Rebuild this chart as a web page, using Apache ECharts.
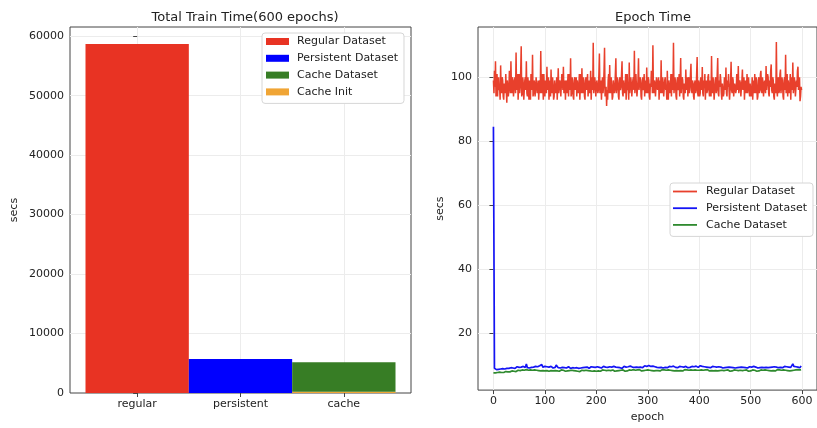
<!DOCTYPE html>
<html>
<head>
<meta charset="utf-8">
<script src="https://cdn.jsdelivr.net/npm/echarts@6/dist/echarts.min.js"></script>
<style>
  html, body { margin: 0; padding: 0; background: #fff; }
  #chart-container { width: 817px; height: 428px; }
</style>
</head>
<body>
<div id="chart-container"></div>
<script>
// left panel: total train time per dataset type
var categories = ['regular', 'persistent', 'cache'];
var regularTotal = [58700, '-', '-'];
var persistentTotal = ['-', 5700, '-'];
var cacheInitTotal = ['-', '-', 200];
var cacheTotal = ['-', '-', 4960];

// right panel: time per epoch
// regular: one value per epoch, persistent/cache: one value every 2 epochs
var regularEpoch = [
  99,95, 102,97, 105,94, 96,101, 94,99, 100,96, 97,93, 103.7,96, 95,100, 99,94, 93,98, 98,95, 101,96, 92,99, 97,94, 96,102, 100,95, 105,97, 95,100, 99,94,
  94,99, 100,95, 107.7,96, 96,101, 93,98, 101,95, 97,102, 109.7,94, 95,100, 98,93, 93,99, 100,96, 105,95, 94,100, 97,93, 99,96, 93,101, 101,96, 107,94, 95,99,
  98,94, 94,100, 100,95, 96,99, 93,97, 99,95, 108.2,96, 95,101, 97,93, 101,96, 94,99, 98,95, 103.3,96, 96,100, 93,98, 99,94, 102.4,96, 95,100, 97,93, 94,99,
  99,95, 96,100, 93,97, 102.8,95, 95,99, 98,94, 94,101, 100,96, 103.3,95, 96,99, 93,98, 99,95, 97,101, 94,98, 101,96, 105.9,94, 95,100, 98,94, 93,99, 100,96,
  96,100, 94,99, 99,95, 97,101, 93,98, 101,95, 102.8,96, 95,100, 98,94, 93,99, 100,96, 96,101, 94,98, 99,95, 97,102, 93,97, 100,96, 110.8,95, 95,100, 98,94,
  94,99, 99,95, 96,101, 107.4,95, 95,99, 93,98, 100,95, 97,102, 109.2,94, 94,97, 91,96, 93,99, 101,95, 103.8,96, 95,100, 97,93, 94,99, 99,95, 96,101, 105.9,95,
  95,100, 98,94, 93,99, 100,96, 97,101, 105,95, 94,99, 99,95, 96,101, 93,98, 101,96, 97,93, 104.6,95, 95,100, 98,94, 94,99, 100,96, 108.3,95, 95,101, 97,94,
  94,99, 105.9,96, 96,100, 99,94, 93,98, 100,96, 97,101, 94,99, 98,95, 103,96, 95,100, 99,94, 93,98, 97,102, 101,95, 110,96, 95,99, 98,94, 94,100, 100,96,
  96,100, 93,98, 99,95, 105.3,96, 95,100, 98,94, 94,99, 100,96, 97,93, 102,96, 93,99, 99,95, 96,101, 94,98, 101,96, 110.8,95, 95,100, 98,94, 93,99, 100,96,
  97,101, 94,99, 106,95, 95,100, 99,94, 93,98, 98,95, 102.4,96, 96,100, 94,99, 100,95, 97,101, 104.2,96, 95,99, 98,94, 93,98, 99,95, 96,101, 106.3,95, 94,99,
  98,94, 95,100, 100,96, 103.2,95, 94,99, 97,101, 93,98, 99,95, 96,100, 101,96, 94,99, 98,94, 106.6,96, 95,100, 97,93, 93,99, 100,95, 96,101, 106,95, 94,99,
  97,101, 99,95, 93,98, 98,94, 95,100, 100,96, 103,95, 94,99, 97,101, 96,93, 93,99, 104.8,96, 95,100, 99,94, 94,98, 98,95, 96,101, 100,96, 103.5,95, 95,99,
  98,94, 94,99, 102.4,96, 96,100, 93,98, 99,95, 97,101, 95,99, 100,96, 94,98, 98,94, 96,100, 93,97, 99,95, 101,96, 95,100, 97,93, 94,99, 100,95, 96,101,
  102,96, 95,100, 98,94, 94,99, 99,95, 103.5,96, 96,101, 100,95, 94,99, 97,102, 104,96, 95,100, 99,94, 93,98, 98,95, 111,96, 94,99, 100,95, 96,101, 102.4,95,
  95,100, 98,94, 93,99, 100,96, 107,95, 96,101, 94,99, 99,95, 97,101, 93,98, 100,96, 104.6,95, 95,100, 98,94, 94,99, 97,102, 103.3,96, 96,100, 92.5,94, 97,96
];
var persistentEpoch = [
  84.5, 9.0, 8.7, 8.6, 8.6, 8.7, 8.6, 8.8, 8.7, 8.9, 9.1, 8.8, 8.9, 9.0, 8.8, 9.0, 8.9, 9.2, 9.0, 9.1,
  9.3, 9.0, 9.2, 9.5, 9.1, 9.3, 9.0, 9.4, 9.2, 9.6, 9.1, 9.3, 10.4, 9.2, 9.5, 9.1, 9.7, 9.3, 9.0, 9.4,
  9.2, 9.6, 9.1, 9.5, 9.3, 9.8, 9.2, 10.2, 9.4, 9.1, 9.6, 9.3, 9.5, 9.2, 9.4, 9.0, 9.6, 9.3, 9.1, 9.5,
  9.3, 10.0, 9.4, 9.2, 9.6, 9.1, 9.4, 9.3, 9.5, 9.2, 9.4, 9.1, 9.3, 9.5, 9.2, 9.0, 9.4, 9.2, 9.5, 9.1,
  9.3, 9.2, 9.4, 9.0, 9.3, 9.1, 9.6, 9.2, 8.9, 9.3, 9.1, 9.4, 9.2, 9.0, 9.3, 9.5, 9.2, 9.4, 9.1, 9.3,
  9.2, 9.5, 9.0, 9.3, 9.4, 9.1, 9.3, 9.6, 9.2, 9.4, 9.0, 9.3, 9.2, 9.5, 9.1, 9.4, 9.3, 9.6, 9.2, 9.4,
  9.1, 9.3, 9.5, 9.2, 9.4, 9.0, 9.3, 9.6, 9.2, 9.4, 9.1, 9.5, 9.3, 9.7, 9.2, 9.4, 9.6, 9.3, 9.8, 9.4,
  9.5, 9.3, 9.7, 9.4, 9.6, 9.2, 9.5, 9.8, 9.4, 9.6, 9.3, 9.9, 10.2, 9.6, 9.4, 9.7, 9.3, 9.5, 9.6, 9.3,
  9.4, 9.2, 9.5, 9.3, 9.6, 9.1, 9.4, 9.3, 9.5, 9.2, 9.4, 9.6, 9.3, 9.5, 9.2, 9.7, 9.4, 9.3, 9.5, 9.2,
  9.4, 9.6, 9.3, 9.5, 9.2, 9.4, 9.3, 9.6, 9.4, 9.2, 9.5, 9.3, 9.4, 9.6, 9.2, 9.5, 9.3, 9.7, 9.4, 9.3,
  9.5, 9.8, 9.4, 9.6, 9.3, 9.5, 9.7, 9.4, 9.6, 9.3, 9.5, 9.2, 9.4, 9.6, 9.3, 9.5, 9.2, 9.4, 9.3, 9.5,
  9.2, 9.4, 9.3, 9.1, 9.4, 9.2, 9.5, 9.3, 9.1, 9.4, 9.2, 9.3, 9.5, 9.2, 9.4, 9.1, 9.3, 9.2, 9.4, 9.3,
  9.1, 9.4, 9.2, 9.3, 9.5, 9.2, 9.4, 9.1, 9.3, 9.5, 9.2, 9.4, 9.3, 9.6, 9.2, 9.4, 9.3, 9.1, 9.4, 9.2,
  9.5, 9.3, 9.4, 9.2, 9.6, 9.3, 9.4, 9.2, 9.5, 9.3, 9.7, 9.4, 9.2, 9.5, 9.3, 9.4, 9.6, 9.2, 9.4, 9.3,
  9.5, 9.2, 9.4, 9.6, 9.3, 9.5, 9.2, 9.4, 9.7, 9.3, 9.5, 10.4, 9.6, 9.3, 9.5, 9.8, 9.4, 9.6, 9.2, 9.8
];
var cacheEpoch = [
  7.6, 7.5, 7.6, 7.5, 7.7, 7.6, 7.8, 7.6, 7.7, 7.9, 7.7, 7.8, 8.0, 7.8, 7.9, 8.1, 7.9, 8.0, 8.2, 8.0,
  8.1, 8.3, 8.0, 8.2, 8.4, 8.1, 8.3, 8.2, 8.5, 8.2, 8.4, 8.3, 8.6, 8.2, 8.4, 8.3, 8.5, 8.2, 8.4, 8.3,
  8.5, 8.2, 8.4, 8.6, 8.3, 8.5, 8.2, 8.4, 8.3, 8.6, 8.2, 8.4, 8.3, 8.5, 8.1, 8.4, 8.3, 8.5, 8.2, 8.4,
  8.3, 8.5, 8.2, 8.4, 8.1, 8.3, 8.5, 8.2, 8.4, 8.3, 8.1, 8.4, 8.2, 8.5, 8.3, 8.1, 8.4, 8.2, 8.3, 8.5,
  8.2, 8.4, 8.1, 8.3, 8.0, 8.2, 8.4, 8.1, 8.3, 8.2, 8.4, 8.1, 8.3, 8.5, 8.2, 8.4, 8.1, 8.3, 8.2, 8.4,
  8.1, 8.3, 8.2, 8.4, 8.1, 8.3, 8.5, 8.2, 8.4, 8.1, 8.3, 8.2, 8.4, 8.1, 8.3, 8.2, 8.5, 8.3, 8.1, 8.4,
  8.2, 8.4, 8.3, 8.1, 8.4, 8.2, 8.5, 8.3, 8.1, 8.4, 8.2, 8.3, 8.5, 8.2, 8.4, 8.3, 8.6, 8.2, 8.4, 8.3,
  8.5, 8.3, 8.6, 8.4, 8.2, 8.5, 8.3, 8.6, 8.4, 8.2, 8.5, 8.3, 8.4, 8.6, 8.3, 8.5, 8.2, 8.4, 8.3, 8.5,
  8.3, 8.5, 8.2, 8.4, 8.6, 8.3, 8.5, 8.2, 8.4, 8.3, 8.5, 8.2, 8.4, 8.6, 8.3, 8.5, 8.2, 8.4, 8.3, 8.5,
  8.2, 8.4, 8.3, 8.5, 8.2, 8.4, 8.6, 8.3, 8.5, 8.2, 8.4, 8.3, 8.5, 8.2, 8.4, 8.3, 8.5, 8.2, 8.4, 8.3,
  8.4, 8.2, 8.5, 8.3, 8.4, 8.2, 8.5, 8.3, 8.6, 8.4, 8.2, 8.5, 8.3, 8.4, 8.2, 8.5, 8.3, 8.4, 8.2, 8.5,
  8.3, 8.1, 8.4, 8.2, 8.3, 8.1, 8.4, 8.2, 8.5, 8.3, 8.1, 8.4, 8.2, 8.3, 8.5, 8.2, 8.4, 8.1, 8.3, 8.2,
  8.4, 8.2, 8.3, 8.1, 8.4, 8.2, 8.5, 8.3, 8.1, 8.4, 8.2, 8.3, 8.5, 8.2, 8.4, 8.3, 8.1, 8.4, 8.2, 8.3,
  8.5, 8.2, 8.4, 8.3, 8.5, 8.2, 8.4, 8.6, 8.3, 8.5, 8.2, 8.4, 8.3, 8.5, 8.2, 8.4, 8.6, 8.3, 8.5, 8.2,
  8.4, 8.3, 8.5, 8.2, 8.4, 8.6, 8.3, 8.5, 8.2, 8.4, 8.3, 8.6, 8.4, 8.2, 8.5, 8.3, 8.6, 8.4, 8.5, 8.6
];

// pair each value with its epoch number
function withEpochs(values, step) {
    return values.map(function (v, i) { return [i * step, v]; });
}

var textColor = '#222';
var spineColor = '#444';
var gridColor = '#ececec';
var fontFamily = 'DejaVu Sans';

var option = {
    animation: false,
    textStyle: { fontFamily: fontFamily, color: textColor },
    title: [
        {
            text: 'Total Train Time(600 epochs)',
            left: 240, top: 6, textAlign: 'center',
            textStyle: { fontSize: 13, fontWeight: 'normal', color: textColor, fontFamily: fontFamily }
        },
        {
            text: 'Epoch Time',
            left: 648, top: 6, textAlign: 'center',
            textStyle: { fontSize: 13, fontWeight: 'normal', color: textColor, fontFamily: fontFamily }
        }
    ],
    legend: [
        {
            orient: 'vertical',
            left: 262, top: 33,
            padding: [2, 6, 5, 4],
            itemWidth: 23, itemHeight: 7, itemGap: 3.8,
            icon: 'rect',
            backgroundColor: '#fff',
            borderColor: '#d6d6d6', borderWidth: 1, borderRadius: 3,
            textStyle: { fontSize: 11, color: textColor, lineHeight: 13, padding: [0, 0, 0, 3] },
            data: [
                { name: 'Regular Dataset', itemStyle: { color: '#e83323' } },
                { name: 'Persistent Dataset', itemStyle: { color: '#0000ff' } },
                { name: 'Cache Dataset', itemStyle: { color: '#377d25' } },
                { name: 'Cache Init', itemStyle: { color: '#f0a535' } }
            ]
        },
        {
            orient: 'vertical',
            left: 670, top: 183,
            padding: [2, 6, 5, 3],
            itemWidth: 24, itemHeight: 1.8, itemGap: 3.7,
            icon: 'rect',
            backgroundColor: '#fff',
            borderColor: '#d6d6d6', borderWidth: 1, borderRadius: 3,
            textStyle: { fontSize: 11, color: textColor, lineHeight: 13, padding: [0, 0, 0, 4] },
            data: [
                { name: 'Regular Dataset', itemStyle: { color: '#e8402c' } },
                { name: 'Persistent Dataset', itemStyle: { color: '#1414f5' } },
                { name: 'Cache Dataset', itemStyle: { color: '#2f8a2f' } }
            ]
        }
    ],
    grid: [
        // left frame
        { left: 70, width: 341, top: 27, bottom: 35, show: true, borderColor: spineColor, borderWidth: 1, backgroundColor: 'transparent' },
        // left bars area
        { left: 85.5, width: 310, top: 27, bottom: 35 },
        // right frame
        { left: 478, width: 341, top: 27, bottom: 35, show: true, borderColor: spineColor, borderWidth: 1, backgroundColor: 'transparent' }
    ],
    xAxis: [
        {
            gridIndex: 0, type: 'value', min: -0.65, max: 2.65, splitNumber: 3,
            axisLine: { show: false },
            axisTick: { show: true, length: 4, lineStyle: { color: spineColor } },
            axisLabel: {
                fontSize: 11, color: textColor, margin: 6,
                showMinLabel: false, showMaxLabel: false,
                formatter: function (v) { return categories[Math.round(v)] || ''; }
            },
            splitLine: { show: true, showMinLine: false, showMaxLine: false, lineStyle: { color: gridColor, width: 1 } }
        },
        {
            gridIndex: 1, type: 'category', data: categories, show: false, boundaryGap: true
        },
        {
            gridIndex: 2, type: 'value', min: -30, max: 629, splitNumber: 6,
            name: 'epoch', nameLocation: 'middle', nameGap: 21,
            nameTextStyle: { fontSize: 11, color: textColor },
            axisLine: { show: false },
            axisTick: { show: true, length: 4, lineStyle: { color: spineColor } },
            axisLabel: { fontSize: 11, color: textColor, margin: 6, showMinLabel: false, showMaxLabel: false },
            splitLine: { show: true, showMinLine: false, showMaxLine: false, lineStyle: { color: gridColor, width: 1 } }
        }
    ],
    yAxis: [
        {
            gridIndex: 0, type: 'value', min: 0, max: 61550, interval: 10000,
            name: 'secs', nameLocation: 'middle', nameGap: 50,
            nameTextStyle: { fontSize: 11, color: textColor },
            axisLine: { show: false },
            axisTick: { show: true, length: 4, lineStyle: { color: spineColor } },
            axisLabel: { fontSize: 11, color: textColor, margin: 6, showMaxLabel: false, formatter: function (v) { return String(v); } },
            splitLine: { show: true, showMinLine: false, showMaxLine: false, lineStyle: { color: gridColor, width: 1 } }
        },
        {
            gridIndex: 1, type: 'value', min: 0, max: 61550, show: false, splitLine: { show: false }
        },
        {
            gridIndex: 2, type: 'value', min: 2.2, max: 115.7, splitNumber: 6,
            name: 'secs', nameLocation: 'middle', nameGap: 32,
            nameTextStyle: { fontSize: 11, color: textColor },
            axisLine: { show: false },
            axisTick: { show: true, length: 4, lineStyle: { color: spineColor } },
            axisLabel: { fontSize: 11, color: textColor, margin: 6, showMinLabel: false, showMaxLabel: false },
            splitLine: { show: true, showMinLine: false, showMaxLine: false, lineStyle: { color: gridColor, width: 1 } }
        }
    ],
    series: [
        { name: 'Regular Dataset', type: 'bar', xAxisIndex: 1, yAxisIndex: 1, stack: 'total', barWidth: '100%', data: regularTotal, itemStyle: { color: '#e83323' } },
        { name: 'Persistent Dataset', type: 'bar', xAxisIndex: 1, yAxisIndex: 1, stack: 'total', barWidth: '100%', data: persistentTotal, itemStyle: { color: '#0000ff' } },
        { name: 'Cache Init', type: 'bar', xAxisIndex: 1, yAxisIndex: 1, stack: 'total', barWidth: '100%', data: cacheInitTotal, itemStyle: { color: '#f0a535' } },
        { name: 'Cache Dataset', type: 'bar', xAxisIndex: 1, yAxisIndex: 1, stack: 'total', barWidth: '100%', data: cacheTotal, itemStyle: { color: '#377d25' } },

        { name: 'Regular Dataset', type: 'line', xAxisIndex: 2, yAxisIndex: 2, data: withEpochs(regularEpoch, 1), symbol: 'none', showSymbol: false, lineStyle: { color: '#e8402c', width: 1.5 }, itemStyle: { color: '#e8402c' } },
        { name: 'Persistent Dataset', type: 'line', xAxisIndex: 2, yAxisIndex: 2, data: withEpochs(persistentEpoch, 2), symbol: 'none', showSymbol: false, lineStyle: { color: '#1414f5', width: 1.7 }, itemStyle: { color: '#1414f5' } },
        { name: 'Cache Dataset', type: 'line', xAxisIndex: 2, yAxisIndex: 2, data: withEpochs(cacheEpoch, 2), symbol: 'none', showSymbol: false, lineStyle: { color: '#2f8a2f', width: 1.7 }, itemStyle: { color: '#2f8a2f' } }
    ]
};

var myChart = echarts.init(document.getElementById('chart-container'), null, { renderer: 'canvas' });
myChart.setOption(option);
</script>
</body>
</html>
